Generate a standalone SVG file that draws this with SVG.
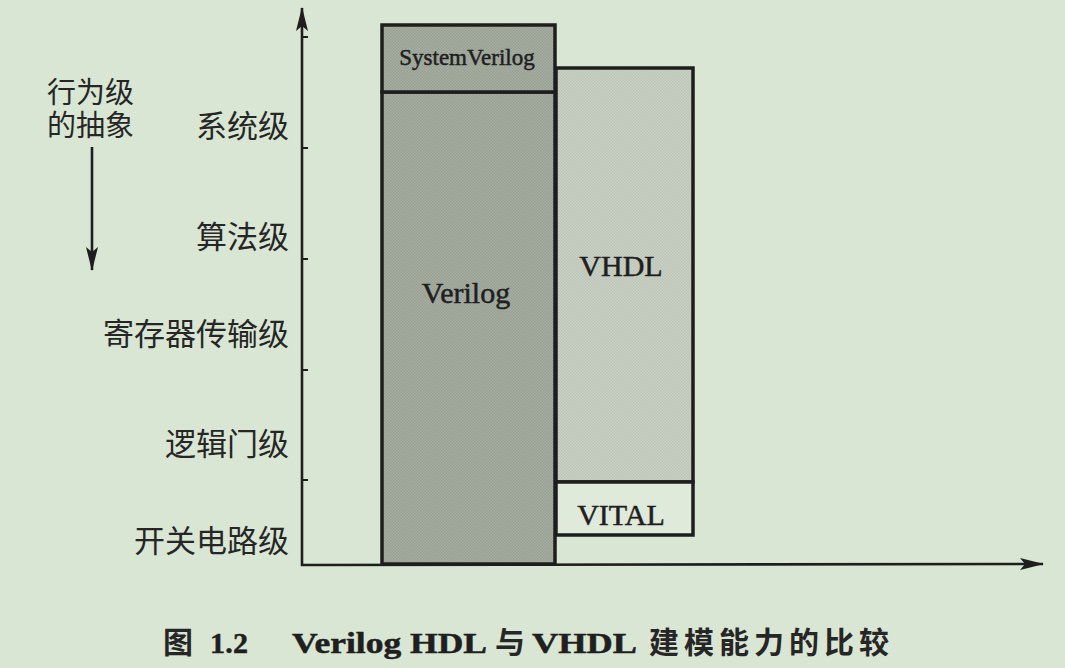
<svg xmlns="http://www.w3.org/2000/svg" width="1065" height="668" viewBox="0 0 1065 668">
  <defs>
    <style>
      .cjk { font-family: "Noto Sans CJK SC", "Noto Sans", sans-serif; fill: #262626; }
      .lvl { font-size: 31px; text-anchor: end; }
      .ser { font-family: "Liberation Serif", "Times New Roman", serif; fill: #1f1f1f; stroke: #1f1f1f; stroke-width: 0.5; }
      .box { stroke: #1e1e1e; stroke-width: 3.5; }
      .axis { stroke: #1e1e1e; stroke-width: 2.6; fill: none; }
      .tick { stroke: #1e1e1e; stroke-width: 2; }
      .cap { font-weight: bold; font-size: 30px; }
    </style>
    <!-- halftone screens for the two shaded bars -->
    <pattern id="darkScreen" width="3" height="3" patternUnits="userSpaceOnUse">
      <rect width="3" height="3" fill="#a7afa3"/>
      <rect width="1.5" height="1.5" fill="#979f93"/>
      <rect x="1.5" y="1.5" width="1.5" height="1.5" fill="#979f93"/>
    </pattern>
    <pattern id="lightScreen" width="3" height="3" patternUnits="userSpaceOnUse">
      <rect width="3" height="3" fill="#cad2c6"/>
      <rect width="1.5" height="1.5" fill="#bcc4b8"/>
      <rect x="1.5" y="1.5" width="1.5" height="1.5" fill="#bcc4b8"/>
    </pattern>
    <!-- slim arrowhead, tip at the end of the line -->
    <marker id="head" viewBox="0 0 24 12" refX="23" refY="6" markerWidth="24" markerHeight="12" markerUnits="userSpaceOnUse" orient="auto">
      <path d="M24 6 L0 0 L5 6 L0 12 Z" fill="#1e1e1e"/>
    </marker>
  </defs>

  <!-- page -->
  <rect width="1065" height="668" fill="#d9e6d3"/>

  <!-- bars -->
  <g id="vhdl">
    <rect class="box" x="556" y="68" width="137" height="414" fill="url(#lightScreen)"/>
    <text class="ser" x="621" y="276" font-size="30" text-anchor="middle">VHDL</text>
  </g>
  <g id="vital">
    <rect class="box" x="556" y="482" width="137" height="53" fill="#dfeadb"/>
    <text class="ser" x="621" y="525" font-size="30" text-anchor="middle">VITAL</text>
  </g>
  <g id="verilog">
    <rect class="box" x="382" y="92" width="173" height="472" fill="url(#darkScreen)"/>
    <text class="ser" x="466" y="303" font-size="30" text-anchor="middle">Verilog</text>
  </g>
  <g id="systemverilog">
    <rect class="box" x="382" y="25" width="173" height="67" fill="url(#darkScreen)"/>
    <text class="ser" x="467" y="65" font-size="23" text-anchor="middle">SystemVerilog</text>
  </g>

  <!-- axes and ticks -->
  <g id="connectors">
    <line class="axis" x1="302" y1="566" x2="302" y2="8" marker-end="url(#head)"/>
    <line class="axis" x1="301" y1="565" x2="1043" y2="564" marker-end="url(#head)"/>
    <line class="tick" x1="301" y1="37" x2="308" y2="37"/>
    <line class="tick" x1="301" y1="148" x2="308" y2="148"/>
    <line class="tick" x1="301" y1="259" x2="308" y2="259"/>
    <line class="tick" x1="301" y1="370" x2="308" y2="370"/>
    <line class="tick" x1="301" y1="480" x2="308" y2="480"/>
    <line class="axis" x1="92" y1="147" x2="92" y2="270" marker-end="url(#head)"/>
  </g>

  <!-- abstraction-direction note, two stacked lines -->
  <g id="direction-label">
    <text class="cjk" x="47" y="103" font-size="29">行为级</text>
    <text class="cjk" x="47" y="136" font-size="29">的抽象</text>
  </g>

  <!-- level labels -->
  <g id="levels">
    <text class="cjk lvl" x="289" y="137">系统级</text>
    <text class="cjk lvl" x="289" y="248">算法级</text>
    <text class="cjk lvl" x="289" y="345">寄存器传输级</text>
    <text class="cjk lvl" x="289" y="455">逻辑门级</text>
    <text class="cjk lvl" x="289" y="552">开关电路级</text>
  </g>

  <!-- figure caption -->
  <g id="caption">
    <text class="cjk cap" x="163" y="653" font-size="30">图</text>
    <text class="ser cap" x="210" y="653" textLength="38" lengthAdjust="spacing">1.2</text>
    <text class="ser cap" x="292" y="653" textLength="195" lengthAdjust="spacingAndGlyphs">Verilog HDL</text>
    <text class="cjk cap" x="495" y="653" font-size="30">与</text>
    <text class="ser cap" x="532" y="653" textLength="105" lengthAdjust="spacingAndGlyphs">VHDL</text>
    <text class="cjk cap" x="649" y="653" font-size="29" letter-spacing="5">建模能力的比较</text>
  </g>
</svg>
